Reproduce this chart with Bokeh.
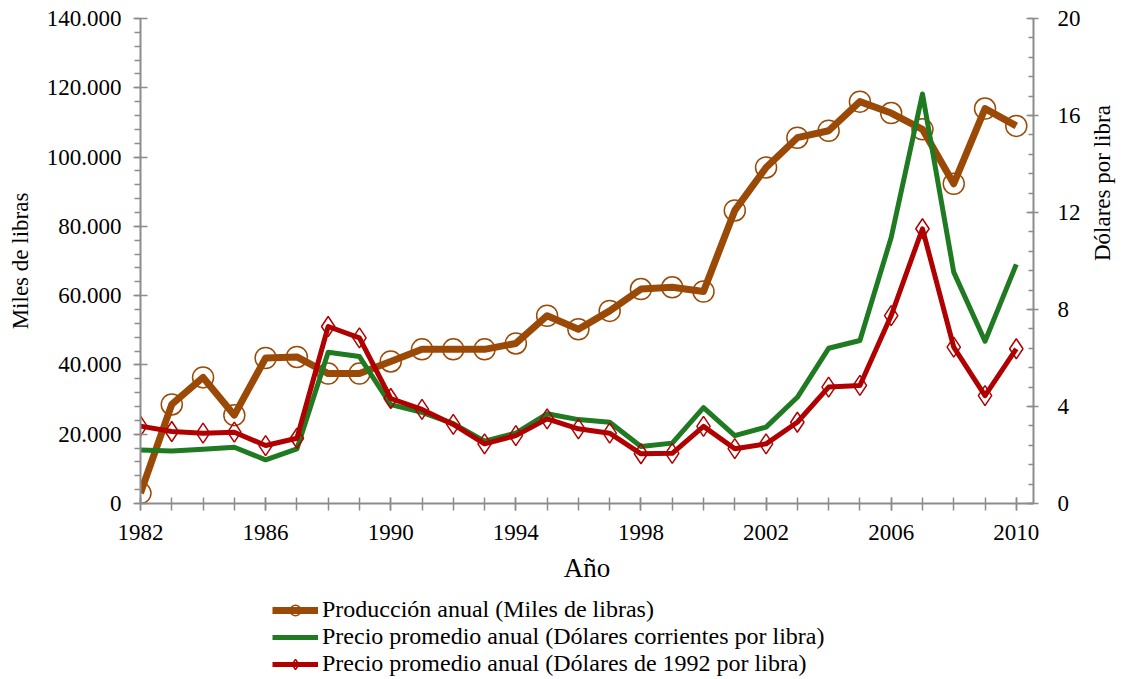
import math
from bokeh.plotting import figure
from bokeh.layouts import column
from bokeh.models import Range1d, LinearAxis, FixedTicker, Legend, LegendItem
from bokeh.embed import file_html
from bokeh.resources import INLINE

years = list(range(1982, 2011))
produccion = [3000, 28600, 36400, 25500, 42000, 42300, 37500, 37500, 41000, 44500,
              44500, 44500, 46200, 54200, 50300, 55600, 61900, 62400, 61200, 84600,
              97000, 105600, 107600, 116000, 112700, 108000, 92300, 114000, 109000]
precio_corriente = [2.21, 2.16, 2.24, 2.32, 1.80, 2.25, 6.24, 6.06, 4.08, 3.76,
                    3.29, 2.57, 2.90, 3.70, 3.46, 3.35, 2.35, 2.49, 3.95, 2.80,
                    3.15, 4.38, 6.40, 6.72, 10.97, 16.89, 9.54, 6.69, 9.86]
precio_1992 = [3.19, 2.97, 2.90, 2.94, 2.39, 2.69, 7.30, 6.83, 4.33, 3.88,
               3.26, 2.46, 2.80, 3.49, 3.08, 2.90, 2.05, 2.07, 3.18, 2.26,
               2.46, 3.35, 4.80, 4.87, 7.75, 11.33, 6.45, 4.45, 6.38]

left_ticks = [0, 20000, 40000, 60000, 80000, 100000, 120000, 140000]
left_labels = ["0", "20.000", "40.000", "60.000", "80.000", "100.000", "120.000", "140.000"]
right_ticks = [0, 4, 8, 12, 16, 20]
x_label_ticks = [1982, 1986, 1990, 1994, 1998, 2002, 2006, 2010]

labels = ["Producción anual (Miles de libras)",
          "Precio promedio anual (Dólares corrientes por libra)",
          "Precio promedio anual (Dólares de 1992 por libra)"]

BROWN = "#9a4a06"
GREEN = "#1f7a22"
RED = "#b00000"
AXIS = "#8c8c8c"
FONT = "Liberation Serif"


def style_axis(ax, label_size):
    ax.axis_label_text_font = FONT
    ax.axis_label_text_font_size = label_size
    ax.axis_label_text_font_style = "normal"
    ax.axis_label_text_color = "black"
    ax.major_label_text_font = FONT
    ax.major_label_text_font_size = "23px"
    ax.major_label_text_color = "black"
    ax.axis_line_color = AXIS
    ax.axis_line_width = 2
    ax.major_tick_line_color = AXIS
    ax.minor_tick_line_color = AXIS
    ax.major_tick_line_width = 1.5
    ax.minor_tick_line_width = 1.5


p = figure(width=1131, height=590, output_backend="svg", toolbar_location=None,
           x_range=Range1d(1982, 2010.55), y_range=Range1d(0, 140000),
           min_border_left=140, min_border_right=98, min_border_top=18, min_border_bottom=87)
p.outline_line_color = None
p.xgrid.visible = False
p.ygrid.visible = False
p.extra_y_ranges = {"right": Range1d(0, 20)}

# x axis
xa = p.xaxis[0]
xa.ticker = FixedTicker(ticks=x_label_ticks, minor_ticks=years)
xa.axis_label = "Año"
style_axis(xa, "27px")
xa.axis_label_standoff = 10
xa.major_label_standoff = 14
xa.major_tick_in = 6
xa.major_tick_out = 7
xa.minor_tick_in = 6
xa.minor_tick_out = 7

# left axis
ya = p.yaxis[0]
ya.ticker = FixedTicker(ticks=left_ticks, minor_ticks=list(range(0, 140001, 4000)))
ya.major_label_overrides = {t: l for t, l in zip(left_ticks, left_labels)}
ya.axis_label = "Miles de libras"
style_axis(ya, "23px")
ya.axis_label_standoff = 11
ya.major_label_standoff = 12
ya.major_tick_in = 7
ya.major_tick_out = 7
ya.minor_tick_in = 0
ya.minor_tick_out = 6

# right axis
ra = LinearAxis(y_range_name="right",
                ticker=FixedTicker(ticks=right_ticks, minor_ticks=[i * 0.8 for i in range(26)]))
ra.axis_label = "Dólares por libra"
style_axis(ra, "23px")
ra.axis_label_orientation = math.pi / 2
ra.axis_label_text_baseline = "top"
ra.axis_label_standoff = 19
ra.major_label_standoff = 19
ra.major_tick_in = 7
ra.major_tick_out = 5
ra.minor_tick_in = 5
ra.minor_tick_out = 0
p.add_layout(ra, "right")

# series
p.line(years, produccion, line_color=BROWN, line_width=7, line_join="round")
p.scatter(years, produccion, marker="circle", size=21, fill_color=None,
          line_color=BROWN, line_width=1.5)
p.line(years, precio_corriente, y_range_name="right", line_color=GREEN,
       line_width=5, line_join="round")
p.line(years, precio_1992, y_range_name="right", line_color=RED,
       line_width=5, line_join="round")
p.scatter(years, precio_1992, y_range_name="right", marker="diamond", size=20,
          fill_color=None, line_color=RED, line_width=1.5)

# legend panel: same series drawn outside its (invisible) view, only to carry legend glyphs
q = figure(width=1131, height=89, output_backend="svg", toolbar_location=None,
           x_range=Range1d(0, 1), y_range=Range1d(0, 1),
           x_axis_location=None, y_axis_location=None, min_border=0)
q.outline_line_color = None
q.grid.visible = False
k1 = q.line(years, produccion, line_color=BROWN, line_width=7)
k1m = q.scatter(years, produccion, marker="circle", fill_color=None,
                line_color=BROWN, line_width=1.5)
k2 = q.line(years, precio_corriente, line_color=GREEN, line_width=5)
k3 = q.line(years, precio_1992, line_color=RED, line_width=5)
k3m = q.scatter(years, precio_1992, marker="diamond", fill_color=None,
                line_color=RED, line_width=1.5)

legend = Legend(items=[LegendItem(label=labels[0], renderers=[k1, k1m]),
                       LegendItem(label=labels[1], renderers=[k2]),
                       LegendItem(label=labels[2], renderers=[k3, k3m])],
                location=(132, 2), orientation="vertical",
                border_line_color=None, background_fill_alpha=0,
                label_text_font=FONT, label_text_font_size="24px",
                label_text_color="black",
                glyph_width=46, glyph_height=26, label_height=26,
                label_standoff=4, spacing=0, padding=0, margin=0)
q.add_layout(legend, "center")

open("out.html", "w").write(file_html(column(p, q), INLINE))
